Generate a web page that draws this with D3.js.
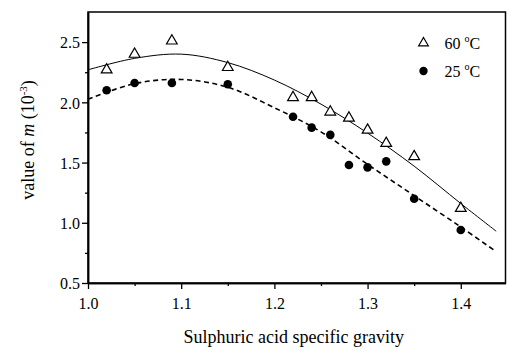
<!DOCTYPE html>
<html>
<head>
<meta charset="utf-8">
<script src="https://cdn.jsdelivr.net/npm/d3@7"></script>
<style>
  body { margin: 0; background: #fff; }
  svg text { font-family: "Liberation Serif", "Times New Roman", serif; fill: #000; }
</style>
</head>
<body>
<svg id="svg"></svg>
<script>
// measured points
const gravity = [1.02, 1.05, 1.09, 1.15, 1.22, 1.24, 1.26, 1.28, 1.30, 1.32, 1.35, 1.40];
const m60 = [2.27, 2.40, 2.51, 2.29, 2.04, 2.04, 1.92, 1.87, 1.77, 1.66, 1.55, 1.12];
const m25 = [2.10, 2.16, 2.16, 2.15, 1.88, 1.79, 1.73, 1.48, 1.46, 1.51, 1.20, 0.94];

// fitted curves
const fitX = [1.00, 1.05, 1.10, 1.15, 1.20, 1.25, 1.30, 1.35, 1.40, 1.438];
const fit60 = [2.27, 2.365, 2.40, 2.33, 2.185, 1.985, 1.745, 1.47, 1.16, 0.93];
const fit25 = [2.025, 2.155, 2.19, 2.125, 1.955, 1.755, 1.485, 1.225, 0.965, 0.76];

const xMajor = [1.0, 1.1, 1.2, 1.3, 1.4];
const xMinor = [1.05, 1.15, 1.25, 1.35];
const yMajor = [0.5, 1.0, 1.5, 2.0, 2.5];
const yMinor = [0.75, 1.25, 1.75, 2.25];

const W = 508, H = 355;
const margin = {left: 88, right: 2.5, top: 12, bottom: 72};
const serif = '"Liberation Serif", "Times New Roman", serif';

const svg = d3.select('#svg').attr('width', W).attr('height', H);

const x = d3.scaleLinear().domain([1.0, 1.448]).range([margin.left, W - margin.right]);
const y = d3.scaleLinear().domain([0.5, 2.75]).range([H - margin.bottom, margin.top]);

// frame
svg.append('rect')
  .attr('x', margin.left).attr('y', margin.top)
  .attr('width', W - margin.right - margin.left)
  .attr('height', H - margin.bottom - margin.top)
  .attr('fill', 'none').attr('stroke', '#000').attr('stroke-width', 1.5);

// axes
const xAxis = svg.append('g')
  .attr('transform', 'translate(0,' + (H - margin.bottom) + ')')
  .call(d3.axisBottom(x).tickValues(xMajor).tickSize(6).tickSizeOuter(0).tickFormat(d3.format('.1f')));
svg.append('g')
  .attr('transform', 'translate(0,' + (H - margin.bottom) + ')')
  .call(d3.axisBottom(x).tickValues(xMinor).tickSize(3).tickSizeOuter(0).tickFormat(''));

const yAxis = svg.append('g')
  .attr('transform', 'translate(' + margin.left + ',0)')
  .call(d3.axisLeft(y).tickValues(yMajor).tickSize(6).tickSizeOuter(0).tickFormat(d3.format('.1f')));
svg.append('g')
  .attr('transform', 'translate(' + margin.left + ',0)')
  .call(d3.axisLeft(y).tickValues(yMinor).tickSize(3).tickSizeOuter(0).tickFormat(''));

xAxis.attr('font-family', serif).attr('font-size', 16);
yAxis.attr('font-family', serif).attr('font-size', 16);
svg.selectAll('.domain').attr('stroke', '#000').attr('stroke-width', 1.5);
svg.selectAll('.tick line').attr('stroke', '#000').attr('stroke-width', 1.3);
svg.selectAll('.tick text').attr('fill', '#000');
xAxis.selectAll('.tick text').attr('dy', '1.05em');
yAxis.selectAll('.tick text').attr('x', -8).attr('dy', '0.36em');

// fitted lines
const line = d3.line()
  .x(d => x(d[0]))
  .y(d => y(d[1]))
  .curve(d3.curveCatmullRom);

svg.append('path')
  .datum(fitX.map((v, i) => [v, fit60[i]]))
  .attr('d', line)
  .attr('fill', 'none').attr('stroke', '#000').attr('stroke-width', 1);

svg.append('path')
  .datum(fitX.map((v, i) => [v, fit25[i]]))
  .attr('d', line)
  .attr('fill', 'none').attr('stroke', '#000').attr('stroke-width', 1.6)
  .attr('stroke-dasharray', '5,3.5');

// markers
const tri = d3.symbol().type(d3.symbolTriangle).size(50);

svg.append('g').selectAll('path')
  .data(gravity.map((v, i) => [v, m60[i]]))
  .enter()
  .append('path')
  .attr('transform', d => 'translate(' + x(d[0]) + ',' + y(d[1]) + ')')
  .attr('d', tri)
  .attr('fill', '#fff').attr('stroke', '#000').attr('stroke-width', 1.2);

svg.append('g').selectAll('circle')
  .data(gravity.map((v, i) => [v, m25[i]]))
  .enter()
  .append('circle')
  .attr('cx', d => x(d[0]))
  .attr('cy', d => y(d[1]))
  .attr('r', 4.3)
  .attr('fill', '#000');

// legend
const legend = svg.append('g');
legend.append('path')
  .attr('transform', 'translate(423.5,43)')
  .attr('d', d3.symbol().type(d3.symbolTriangle).size(40))
  .attr('fill', '#fff').attr('stroke', '#000').attr('stroke-width', 1.2);
legend.append('circle').attr('cx', 423.5).attr('cy', 71).attr('r', 4.2).attr('fill', '#000');

const l1 = legend.append('text').attr('x', 444.5).attr('y', 48.5).style('font-size', '16px');
l1.append('tspan').text('60 ');
l1.append('tspan').attr('dy', -7).style('font-size', '10px').text('o');
l1.append('tspan').attr('dy', 7).text('C');

const l2 = legend.append('text').attr('x', 444.5).attr('y', 77).style('font-size', '16px');
l2.append('tspan').text('25 ');
l2.append('tspan').attr('dy', -7).style('font-size', '10px').text('o');
l2.append('tspan').attr('dy', 7).text('C');

// axis titles
svg.append('text')
  .attr('x', (margin.left + W - margin.right) / 2 - 3)
  .attr('y', 343)
  .attr('text-anchor', 'middle')
  .style('font-size', '18px')
  .text('Sulphuric acid specific gravity');

const yt = svg.append('text')
  .attr('transform', 'translate(34,140) rotate(-90)')
  .attr('text-anchor', 'middle')
  .style('font-size', '18px');
yt.append('tspan').text('value of ');
yt.append('tspan').style('font-style', 'italic').text('m');
yt.append('tspan').text(' (10');
yt.append('tspan').attr('dy', -7).style('font-size', '11px').text('-3');
yt.append('tspan').attr('dy', 7).text(')');
</script>
</body>
</html>
